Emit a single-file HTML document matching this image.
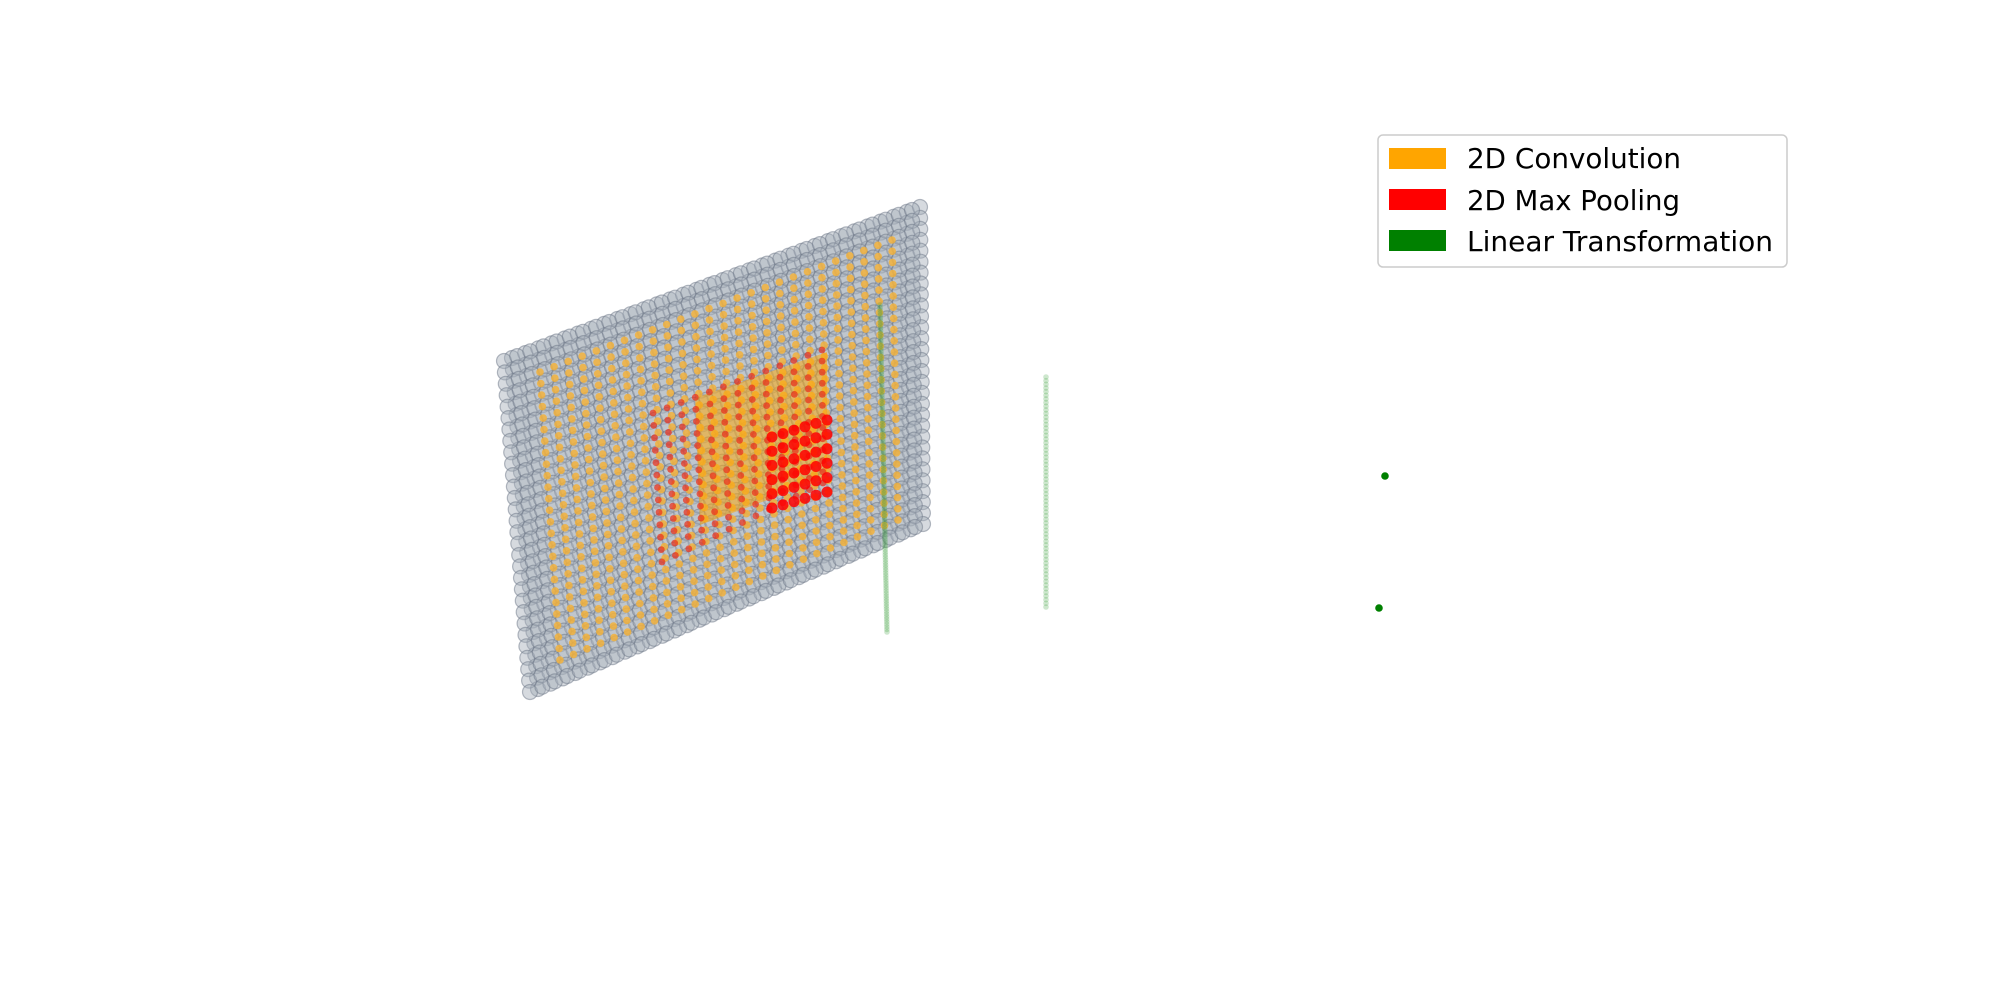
<!DOCTYPE html>
<html><head><meta charset="utf-8"><style>
html,body{margin:0;padding:0;background:#fff;}
svg{display:block;font-family:"DejaVu Sans","Liberation Sans",sans-serif;}
</style></head><body>
<svg id="chart" width="2000" height="1000" viewBox="0 0 2000 1000">
<g id="layers"></g>
<g>
<rect x="1378" y="135" width="409" height="132" rx="5" fill="#fff" fill-opacity="0.8" stroke="#ccc" stroke-width="1.5"/>
<rect x="1389" y="148" width="57" height="21" fill="orange"/>
<text x="1467" y="168" font-size="28" textLength="214" lengthAdjust="spacingAndGlyphs">2D Convolution</text>
<rect x="1389" y="189" width="57" height="21" fill="red"/>
<text x="1467" y="210" font-size="28" textLength="213" lengthAdjust="spacingAndGlyphs">2D Max Pooling</text>
<rect x="1389" y="230" width="57" height="21" fill="green"/>
<text x="1467" y="251" font-size="28" textLength="306" lengthAdjust="spacingAndGlyphs">Linear Transformation</text>
</g>
</svg>
<script>
// layer data
const gridCols = [32, 26, 13, 6];
const gridRows = [30, 26, 13, 6];
const linearSizes = [128, 64, 1, 1];
const layerKinds = ["input", "conv", "pool", "pool-max"];

const NS = "http://www.w3.org/2000/svg";
const g = document.getElementById("layers");
function bilinear(q, u, v) {
  const x = (1-u)*(1-v)*q[0][0] + u*(1-v)*q[1][0] + u*v*q[2][0] + (1-u)*v*q[3][0];
  const y = (1-u)*(1-v)*q[0][1] + u*(1-v)*q[1][1] + u*v*q[2][1] + (1-u)*v*q[3][1];
  return [x, y];
}
function dot(x, y, r, fill, stroke, name) {
  const c = document.createElementNS(NS, "circle");
  c.setAttribute("cx", x.toFixed(1)); c.setAttribute("cy", y.toFixed(1)); c.setAttribute("r", r);
  c.setAttribute("fill", fill);
  if (stroke) { c.setAttribute("stroke", stroke); c.setAttribute("stroke-width", "1.2"); }
  
  
  g.appendChild(c);
}
function grid(quad, cols, rows, r, fill, stroke, name) {
  for (let j = 0; j < rows; j++) for (let i = 0; i < cols; i++) {
    const p = bilinear(quad, cols > 1 ? i/(cols-1) : 0, rows > 1 ? j/(rows-1) : 0);
    dot(p[0], p[1], r, fill, stroke, name);
  }
}
const inputQuad = [[504,361],[912,210],[915,527],[530,692]];
const convQuad = [[540,372],[892,240],[898,520],[560,660]];
const poolQuad = [[653,413],[822,350],[823,483],[662,562]];
const maxQuad = [[772,437],[827,420],[827,492],[772,508]];
const blockQuad = [[695,398],[827,352],[827,478],[700,525]];

// input layer (two slightly offset sheets)
grid(inputQuad.map(p=>[p[0]+8,p[1]-3]), gridCols[0], gridRows[0], 7.5, "rgba(165,172,185,0.45)", "rgba(110,120,135,0.5)", "input-neuron");
grid(inputQuad, gridCols[0], gridRows[0], 7.5, "rgba(165,172,185,0.45)", "rgba(110,120,135,0.5)", "input-neuron");
// convolution layer
grid(convQuad, gridCols[1], gridRows[1], 3.8, "rgba(242,178,60,0.85)", null, "conv-neuron");
// dense conv block
const poly = document.createElementNS(NS, "polygon");
poly.setAttribute("points", blockQuad.map(p=>p.join(",")).join(" "));
poly.setAttribute("fill", "rgba(255,165,0,0.5)");


g.appendChild(poly);
// pooling
grid(poolQuad, gridCols[2], gridRows[2], 3.4, "rgba(235,45,25,0.7)", null, "pool-neuron");
grid(maxQuad, gridCols[3], gridRows[3], 5.5, "rgba(255,0,0,0.85)", null, "max-pool-neuron");

// linear layers
function column(x0, y0, x1, y1, n, r, fill, name) {
  for (let k = 0; k < n; k++) {
    const t = n > 1 ? k/(n-1) : 0;
    dot(x0 + (x1-x0)*t, y0 + (y1-y0)*t, r, fill, null, name);
  }
}
column(880, 305, 887, 632, linearSizes[0], 2.8, "rgba(60,160,60,0.25)", "linear-neuron-1");
column(1046, 377, 1046, 607, linearSizes[1], 2.8, "rgba(60,160,60,0.25)", "linear-neuron-2");
column(1385, 476, 1385, 476, linearSizes[2], 3.8, "green", "output-neuron-1");
column(1379, 608, 1379, 608, linearSizes[3], 3.8, "green", "output-neuron-2");
</script>
</body></html>
